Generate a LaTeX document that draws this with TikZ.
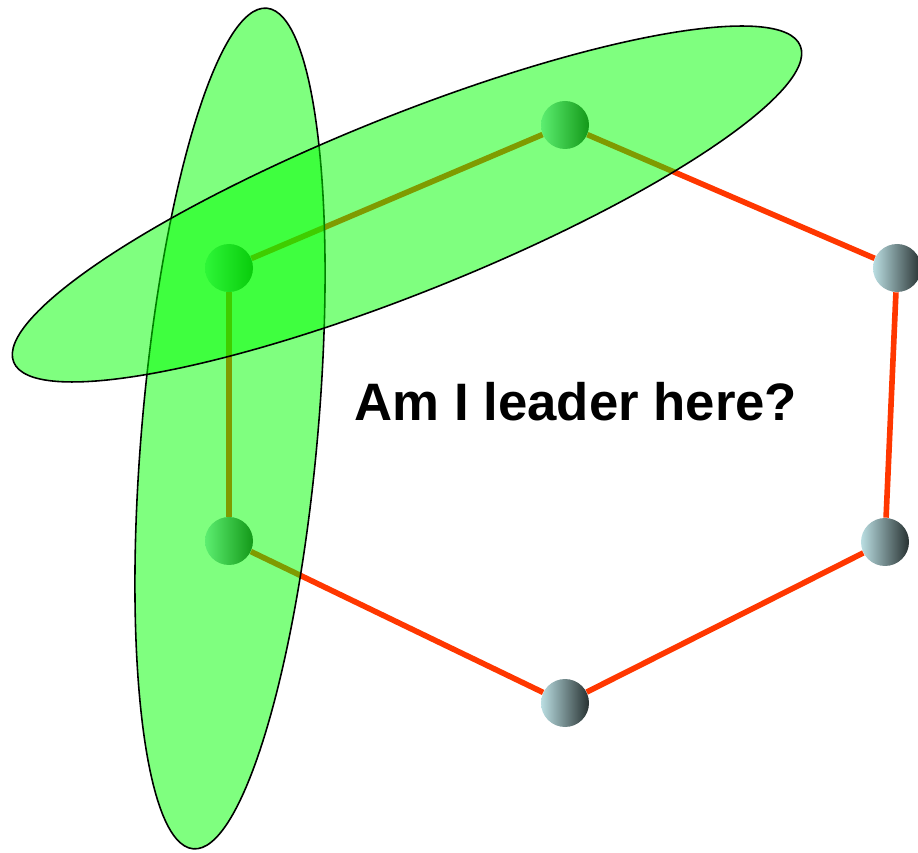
\documentclass[tikz,border=0pt]{standalone}
\usepackage{fontspec}
\setmainfont{Liberation Sans}
\definecolor{ringred}{RGB}{255,55,0}
\definecolor{ballleft}{RGB}{186,222,226}
\definecolor{ballright}{RGB}{40,50,50}
\tikzset{
  ball/.style={circle,inner sep=0pt,minimum size=0.96cm,left color=ballleft,right color=ballright},
  ring/.style={draw=ringred,line width=3.2pt},
  group/.style={fill=green,fill opacity=0.5,draw=black,draw opacity=1,line width=0.9pt}
}
\begin{document}
\begin{tikzpicture}[x=0.02cm,y=0.02cm]
\useasboundingbox (0,0) rectangle (918,852);
% processes on the ring
\node[ball] (top) at (565,727) {};
\node[ball] (upright) at (897,584) {};
\node[ball] (lowright) at (885,310) {};
\node[ball] (bottom) at (565,149) {};
\node[ball] (lowleft) at (229,311) {};
\node[ball] (upleft) at (229,584) {};
\draw[ring] (top) -- (upright);
\draw[ring] (upright) -- (lowright);
\draw[ring] (lowright) -- (bottom);
\draw[ring] (bottom) -- (lowleft);
\draw[ring] (lowleft) -- (upleft);
\draw[ring] (upleft) -- (top);
% neighbourhoods
\draw[group,shift={(230,423.5)},rotate=85] (0,0) ellipse [x radius=8.44cm,y radius=1.76cm];
\draw[group,shift={(407,648)},rotate=21.9] (0,0) ellipse [x radius=8.48cm,y radius=1.76cm];
\node[inner sep=0pt,font=\fontsize{30}{36}\selectfont\bfseries] (question) at (576,450) {Am I leader here?};
\end{tikzpicture}
\end{document}
